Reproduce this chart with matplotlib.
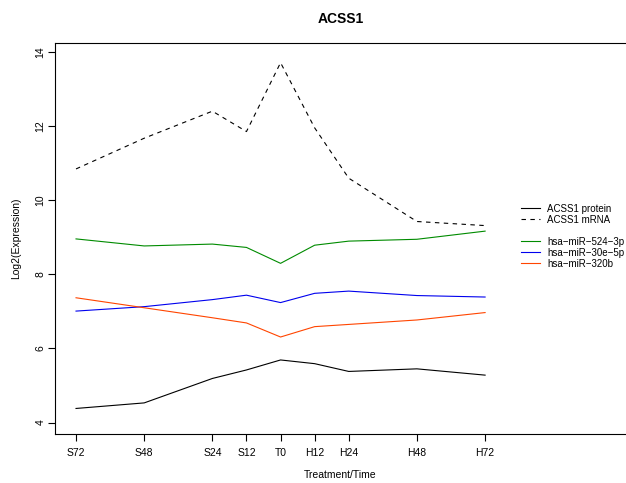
import matplotlib
matplotlib.use("Agg")
import matplotlib.pyplot as plt
from matplotlib.lines import Line2D

plt.rcParams['font.family'] = ['Liberation Sans', 'DejaVu Sans']

time_hours = [-72, -48, -24, -12, 0, 12, 24, 48, 72]
tick_labels = ["S72", "S48", "S24", "S12", "T0", "H12", "H24", "H48", "H72"]

acss1_protein = [4.38, 4.53, 5.19, 5.42, 5.69, 5.59, 5.38, 5.45, 5.28]
acss1_mrna = [10.85, 11.68, 12.41, 11.86, 13.72, 11.96, 10.60, 9.43, 9.32]
mir_524_3p = [8.96, 8.77, 8.82, 8.73, 8.30, 8.79, 8.90, 8.95, 9.17]
mir_30e_5p = [7.01, 7.13, 7.32, 7.44, 7.24, 7.49, 7.55, 7.43, 7.39]
mir_320b = [7.37, 7.10, 6.83, 6.69, 6.31, 6.59, 6.65, 6.77, 6.97]

y_ticks = [4, 6, 8, 10, 12, 14]

fig = plt.figure(figsize=(6.26, 4.83), dpi=100)
ax = fig.add_axes([55/626, 1-434/483, 1-55/626, (434-42.7)/483])

lw = 0.8
ax.plot(time_hours, acss1_protein, color="black", lw=lw, label="ACSS1 protein")
ax.plot(time_hours, acss1_mrna, color="black", lw=lw, linestyle=(0, (4, 4)), label="ACSS1 mRNA")
ax.plot(time_hours, mir_524_3p, color="#008B00", lw=lw, label="hsa\u2212miR\u2212524\u22123p")
ax.plot(time_hours, mir_30e_5p, color="#0000EE", lw=lw, label="hsa\u2212miR\u221230e\u22125p")
ax.plot(time_hours, mir_320b, color="#FF4500", lw=lw, label="hsa\u2212miR\u2212320b")

ax.set_xlim(-79.4, 121.6)
ax.set_ylim(3.69, 14.26)
ax.set_xticks(time_hours)
ax.set_xticklabels(tick_labels, fontsize=7.5)
ax.set_yticks(y_ticks)
ax.set_yticklabels([str(v) for v in y_ticks], fontsize=7.5, rotation=90, va="center")
ax.tick_params(axis="both", direction="out", length=5, width=0.8)
ax.tick_params(axis="x", pad=5)
ax.tick_params(axis="y", pad=2)
ax.spines["right"].set_visible(False)
for s in ["left", "top", "bottom"]:
    ax.spines[s].set_linewidth(0.8)

ax.set_xlabel("Treatment/Time", fontsize=7.5, labelpad=9)
ax.set_ylabel("Log2(Expression)", fontsize=7.5, labelpad=10)
ax.set_title("ACSS1", fontsize=10, fontweight="bold", pad=14)

h = ax.get_legend_handles_labels()[0]
l = ax.get_legend_handles_labels()[1]
blank = Line2D([], [], color="none")
handles = [h[0], h[1], blank, h[2], h[3], h[4]]
labels = [l[0], l[1], "", l[2], l[3], l[4]]
leg = ax.legend(handles, labels, loc="upper left", bbox_to_anchor=(516/626, 1-199/483),
                bbox_transform=fig.transFigure, frameon=False, fontsize=7,
                handlelength=1.95, handletextpad=0.75, labelspacing=0.1, borderpad=0)

fig.savefig("out.png", dpi=100)
